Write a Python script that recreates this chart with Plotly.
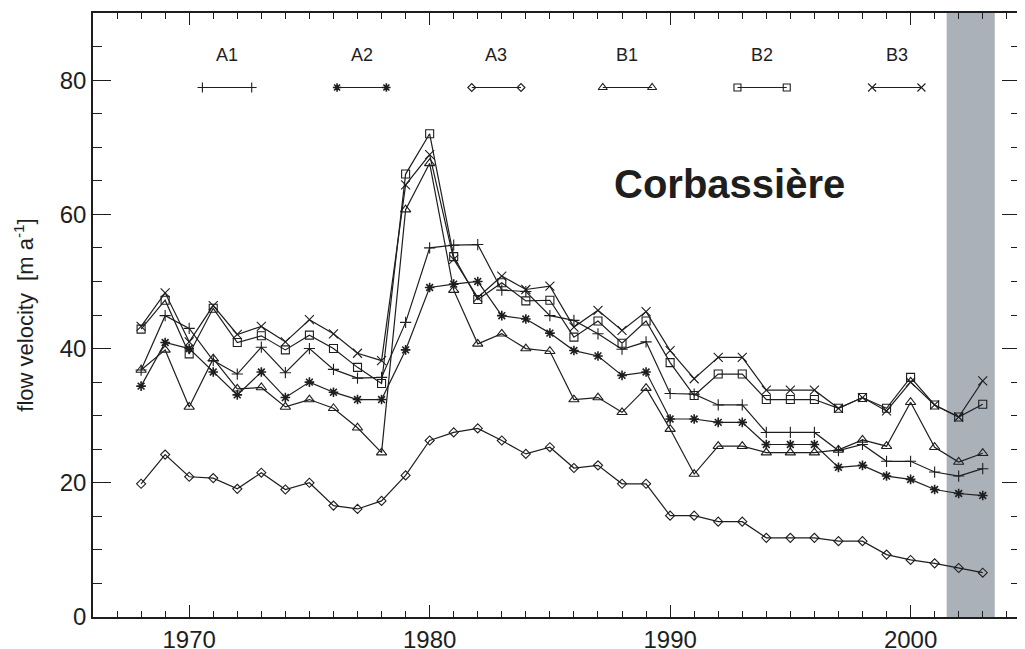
import plotly.graph_objects as go

years = list(range(1968, 2004))

A1 = [36.8, 44.9, 43.0, 38.2, 36.2, 40.2, 36.4, 40.0, 36.9, 35.6, 35.7, 43.9,
      55.0, 55.4, 55.5, 48.7, 48.5, 44.9, 44.2, 42.2, 39.9, 41.0, 33.3, 33.2,
      31.6, 31.6, 27.5, 27.5, 27.5, 24.8, 25.7, 23.2, 23.2, 21.6, 21.0, 22.1]
A2 = [34.4, 40.9, 40.0, 36.5, 33.1, 36.5, 32.7, 35.0, 33.5, 32.4, 32.4, 39.8,
      49.1, 49.6, 50.0, 44.9, 44.4, 42.3, 39.7, 38.9, 36.0, 36.5, 29.5, 29.5,
      29.0, 29.0, 25.7, 25.7, 25.7, 22.3, 22.6, 21.0, 20.5, 19.0, 18.4, 18.1]
A3 = [19.85, 24.2, 20.9, 20.7, 19.1, 21.5, 19.0, 20.0, 16.6, 16.1, 17.3, 21.1,
      26.3, 27.5, 28.1, 26.3, 24.3, 25.3, 22.2, 22.6, 19.85, 19.85, 15.1, 15.1,
      14.2, 14.2, 11.8, 11.8, 11.8, 11.3, 11.3, 9.3, 8.5, 8.0, 7.3, 6.6]
B1 = [36.8, 39.8, 31.3, 38.5, 34.0, 34.2, 31.3, 32.4, 31.1, 28.2, 24.5, 60.7,
      67.6, 48.7, 40.7, 42.2, 40.0, 39.6, 32.4, 32.7, 30.5, 34.1, 28.0, 21.3,
      25.45, 25.45, 24.5, 24.5, 24.5, 24.9, 26.4, 25.45, 32.0, 25.3, 23.1, 24.4]
B2 = [42.9, 47.2, 39.2, 46.0, 40.9, 41.9, 39.8, 42.0, 40.0, 37.2, 34.8, 66.0,
      72.0, 53.7, 47.3, 49.8, 47.1, 47.2, 41.7, 44.1, 40.8, 44.1, 37.9, 33.0,
      36.2, 36.2, 32.4, 32.4, 32.4, 31.1, 32.7, 31.1, 35.7, 31.6, 29.8, 31.7]
B3 = [43.3, 48.3, 41.0, 46.4, 42.1, 43.3, 41.0, 44.3, 42.2, 39.3, 38.2, 64.4,
      68.9, 53.3, 47.6, 50.8, 48.8, 49.3, 43.2, 45.7, 42.7, 45.5, 39.7, 35.5,
      38.7, 38.7, 33.8, 33.8, 33.8, 31.1, 32.7, 30.7, 35.0, 31.6, 29.8, 35.2]

series_names = ["A1", "A2", "A3", "B1", "B2", "B3"]
series_values = [A1, A2, A3, B1, B2, B3]
symbols = ["cross-thin-open", "asterisk-open", "diamond-open",
           "triangle-up-open", "square-open", "x-thin-open"]
sizes = [8, 8, 7, 9, 8, 9]
marker_widths = [1.1, 1.6, 1.1, 1.1, 1.1, 1.1]

legend_start = [1970.55, 1976.15, 1981.75, 1987.2, 1992.8, 1998.4]
legend_len = 2.05
legend_y = 78.9
legend_label_y = 83.7

shade_x0, shade_x1 = 2001.5, 2003.5

ink = "#1e1e1e"
font_family = "Liberation Sans, Arial"
fig = go.Figure()

for name, vals, sym, sz, mw in zip(series_names, series_values, symbols, sizes,
                                   marker_widths):
    mk = dict(symbol=sym, size=sz, color=ink, line=dict(color=ink, width=mw))
    fig.add_trace(go.Scatter(x=years, y=vals, mode="lines+markers", name=name,
                             line=dict(color=ink, width=1.2), marker=mk,
                             showlegend=False))

for name, x0, sym, sz, mw in zip(series_names, legend_start, symbols, sizes,
                                 marker_widths):
    mk = dict(symbol=sym, size=sz - 1, color=ink, line=dict(color=ink, width=mw))
    fig.add_trace(go.Scatter(x=[x0, x0 + legend_len], y=[legend_y, legend_y],
                             mode="lines+markers", line=dict(color=ink, width=1.0),
                             marker=mk, showlegend=False, hoverinfo="skip"))
    fig.add_annotation(x=x0 + legend_len / 2, y=legend_label_y, text=name,
                       showarrow=False,
                       font=dict(size=18, color=ink, family=font_family))

fig.add_shape(type="rect", xref="x", yref="paper", x0=shade_x0, x1=shade_x1,
              y0=0, y1=1, fillcolor="#aab1b9", line=dict(width=0), layer="below")

fig.add_annotation(x=1992.45, y=64.5, text="<b>Corbassière</b>", showarrow=False,
                   font=dict(size=40, color=ink, family=font_family))

axis_common = dict(showgrid=False, zeroline=False, showline=True, linecolor=ink,
                   linewidth=1.5, mirror="ticks", ticks="inside",
                   tickcolor=ink, tickwidth=1.3, automargin=False,
                   tickfont=dict(size=24, color=ink, family=font_family))

fig.update_xaxes(range=[1966, 2004.55], tickvals=[1970, 1980, 1990, 2000],
                 ticklen=12,
                 minor=dict(dtick=1, tick0=1966, ticks="inside", ticklen=6,
                            tickcolor=ink, tickwidth=1.2),
                 **axis_common)
fig.update_yaxes(range=[0, 90], tickvals=[0, 20, 40, 60, 80], ticklen=18,
                 minor=dict(dtick=5, tick0=0, ticks="inside", ticklen=9,
                            tickcolor=ink, tickwidth=1.2),
                 title=dict(text="flow velocity  [m a<sup>-1</sup>]", standoff=20,
                            font=dict(size=22, color=ink, family=font_family)),
                 **axis_common)

# the page body adds an 8 px offset; size the figure so the plot frame sits
# where the reference has it
fig.update_layout(width=1017, height=641, plot_bgcolor="white",
                  paper_bgcolor="white",
                  margin=dict(l=85, r=5, t=5, b=32))

fig.write_html("out.html")
